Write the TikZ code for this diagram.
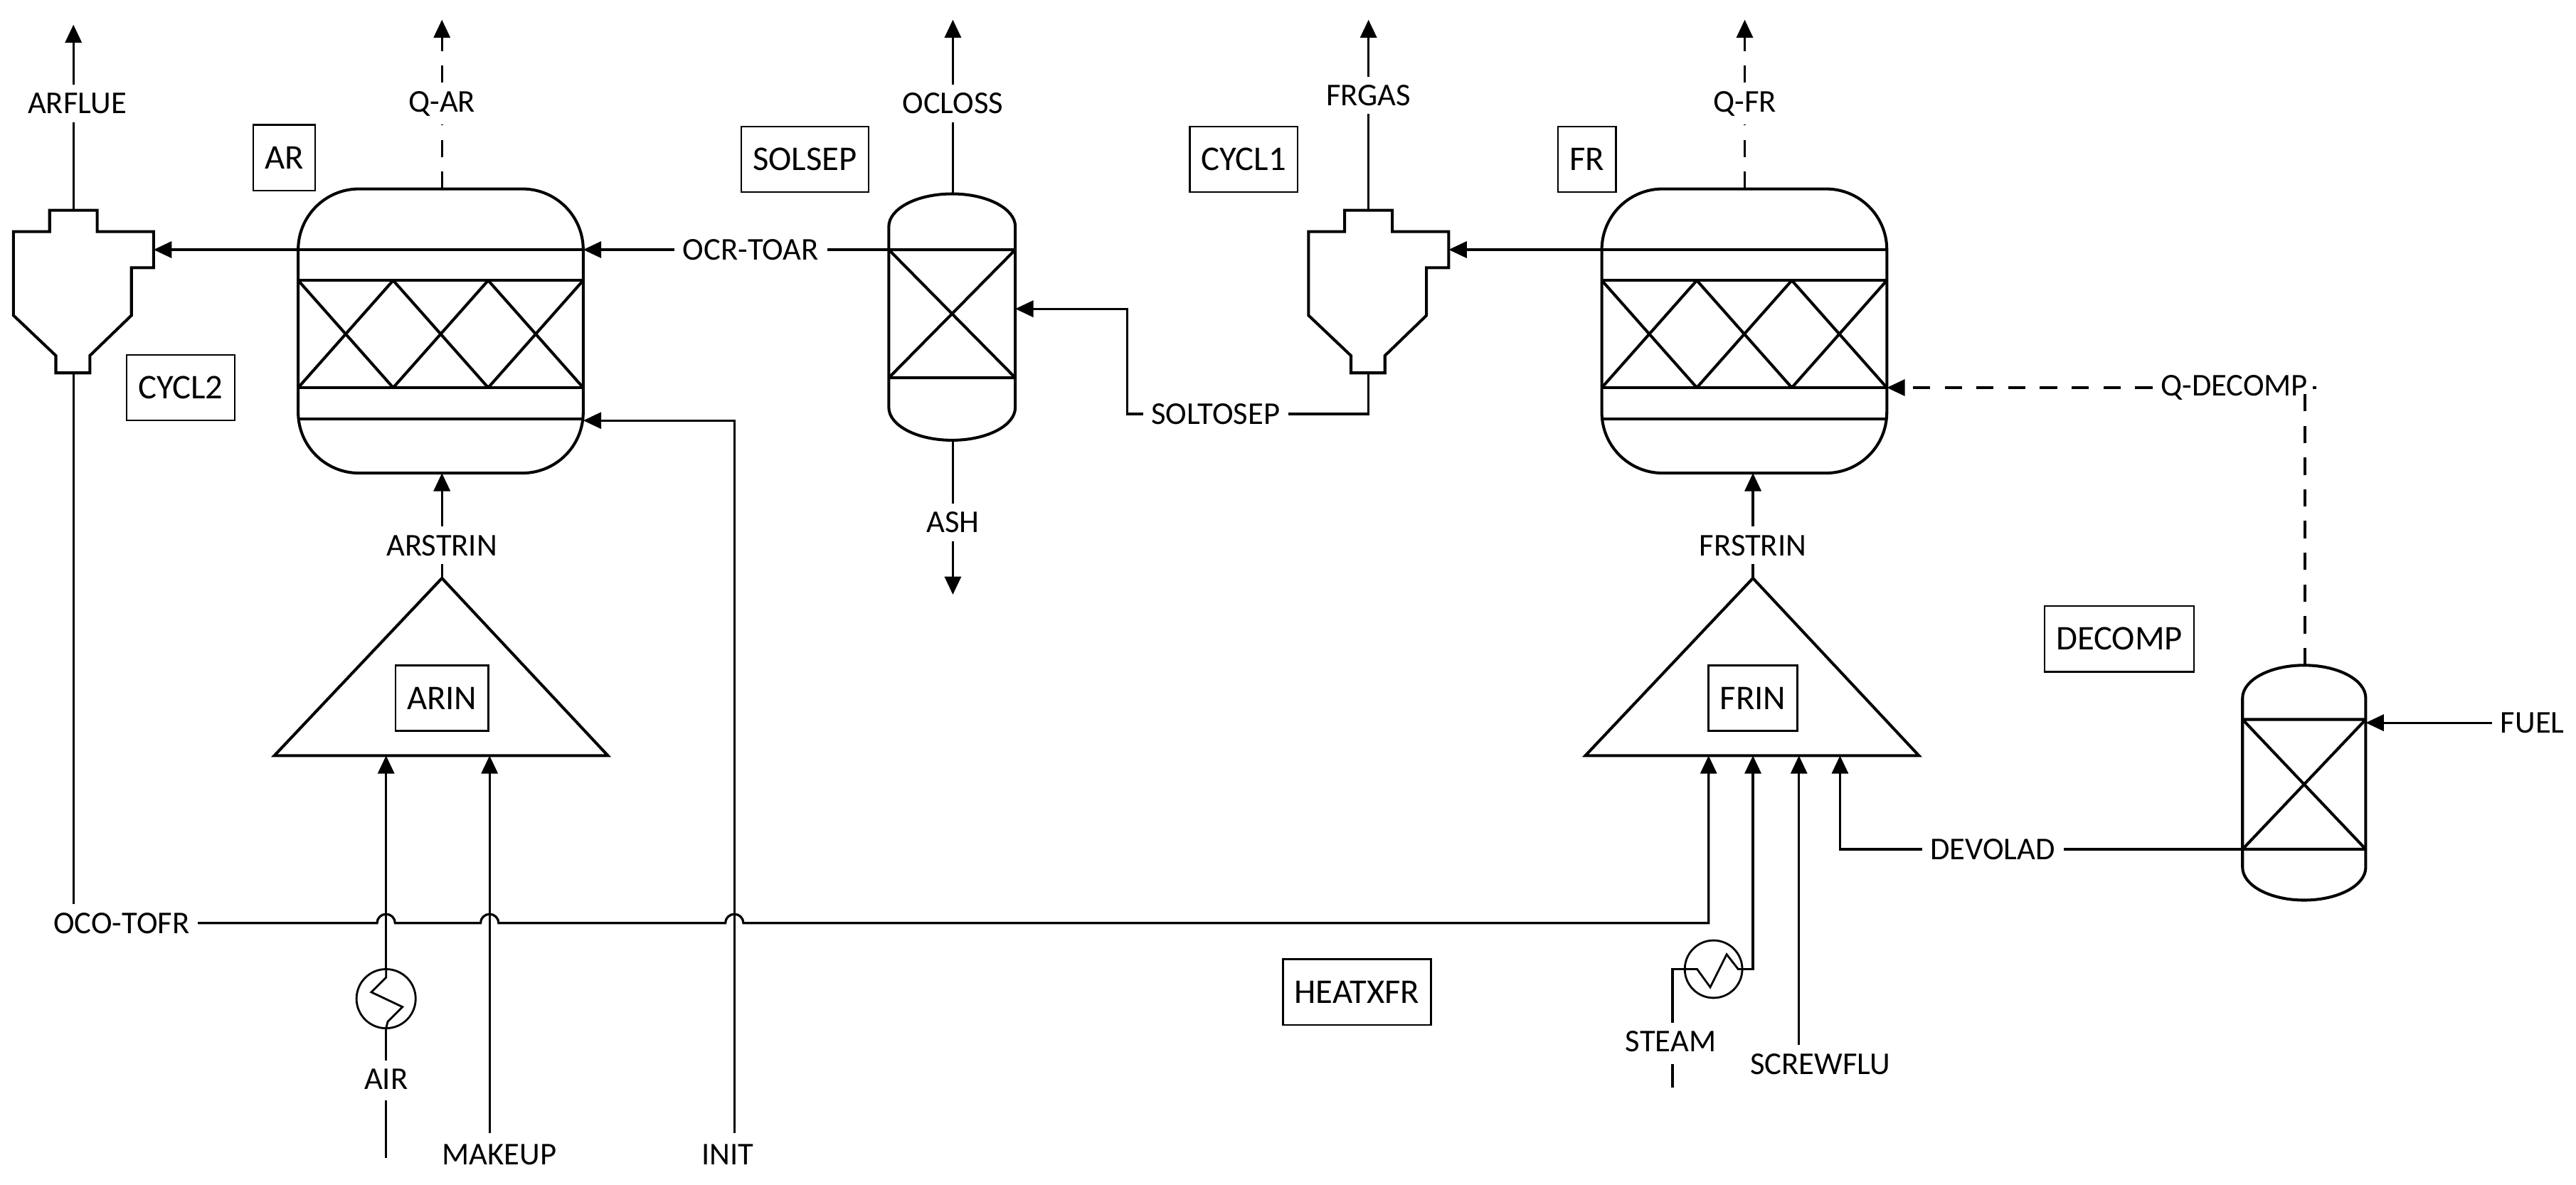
\documentclass[tikz,border=0pt]{standalone}
\usepackage{fontspec}
\setmainfont{Carlito}
\usetikzlibrary{arrows.meta}
\begin{document}
\begin{tikzpicture}[x=0.02cm,y=-0.02cm,line width=0.8pt,
  >={Triangle[length=0.22cm,width=0.2cm]},
  lab/.style={font=\fontsize{11}{13}\selectfont,inner sep=2.5pt},
  box/.style={draw,line width=0.6pt,font=\fontsize{12}{14}\selectfont,minimum height=0.8cm,inner sep=4pt},
  eq/.style={line width=1pt},
  dsh/.style={dash pattern=on 6pt off 5pt}]
\useasboundingbox (0,0) rectangle (1568,721);
% ---------- cyclones
\foreach \c in {44.7,833}{
 \begin{scope}[shift={(\c,0)}]
 \draw[eq] (-14.5,128) -- (14.5,128) -- (14.5,141) -- (48.8,141) -- (48.8,163) -- (35.3,163) -- (35.3,192) -- (10,216.5) -- (10,227) -- (-10.7,227) -- (-10.7,216.5) -- (-36.5,192) -- (-36.5,141) -- (-14.5,141) -- cycle;
 \end{scope}}
\coordinate (cAtop) at (44.7,128); \coordinate (cAin) at (93.5,152); \coordinate (cAbot) at (44.7,227);
\coordinate (cBtop) at (833,128); \coordinate (cBin) at (881.8,152); \coordinate (cBbot) at (833,227);
% ---------- reactors
\foreach \xo in {181.5,975}{
 \begin{scope}[shift={(\xo,0)}]
 \draw[eq,rounded corners=0.74cm] (0,115) rectangle (173.5,288);
 \draw[eq] (0,152) -- (173.5,152) (0,170.7) -- (173.5,170.7) (0,236) -- (173.5,236) (0,255) -- (173.5,255);
 \foreach \i in {0,1,2}{\draw[eq] (57.83*\i,170.7) -- (57.83*\i+57.83,236) (57.83*\i,236) -- (57.83*\i+57.83,170.7);}
 \end{scope}}
% ---------- SOLSEP vessel
\draw[eq] (541,248) -- (541,138) arc[start angle=180,end angle=360,x radius=38.5,y radius=20] -- (618,248) arc[start angle=0,end angle=180,x radius=38.5,y radius=20];
\draw[eq] (541,152) -- (618,152) (541,230) -- (618,230) (541,152) -- (618,230) (541,230) -- (618,152);
% ---------- DECOMP vessel
\draw[eq] (1365,528) -- (1365,425) arc[start angle=180,end angle=360,x radius=37.5,y radius=20] -- (1440,528) arc[start angle=0,end angle=180,x radius=37.5,y radius=20];
\draw[eq] (1365,438) -- (1440,438) (1365,517) -- (1440,517) (1365,438) -- (1440,517) (1365,517) -- (1440,438);
% ---------- mixers
\draw[eq] (269,352) -- (370,460) -- (167,460) -- cycle;
\draw[eq] (1067,352) -- (1168,460) -- (965,460) -- cycle;
% ---------- boxes
\node[box] (bAR) at (173,96) {AR};
\node[box] (bCYCL2) at (110,236) {CYCL2};
\node[box] (bSOLSEP) at (490,97) {SOLSEP};
\node[box] (bCYCL1) at (757,97) {CYCL1};
\node[box] (bFR) at (966,97) {FR};
\node[box] (bARIN) at (269,425) {ARIN};
\node[box] (bFRIN) at (1067,425) {FRIN};
\node[box] (bDECOMP) at (1290,389) {DECOMP};
\node[box] (bHEATXFR) at (826,604) {HEATXFR};
% ---------- stream labels
\node[lab] (ARFLUE) at (47,63) {ARFLUE};
\node[lab] (QAR) at (269,63) {Q-AR};
\node[lab] (OCLOSS) at (580,63) {OCLOSS};
\node[lab] (FRGAS) at (833,58) {FRGAS};
\node[lab] (QFR) at (1062,63) {Q-FR};
\node[lab,fill=white] (OCRTOAR) at (457,152) {OCR-TOAR};
\node[lab,fill=white] (SOLTOSEP) at (740,252) {SOLTOSEP};
\node[lab] (ASH) at (580,318) {ASH};
\node[lab] (ARSTRIN) at (269,332) {ARSTRIN};
\node[lab] (FRSTRIN) at (1067,332) {FRSTRIN};
\node[lab,fill=white] (QDECOMP) at (1360,236) {Q-DECOMP};
\node[lab,anchor=east] (FUEL) at (1566,440) {FUEL};
\node[lab,fill=white] (DEVOLAD) at (1213,517) {DEVOLAD};
\node[lab,fill=white] (OCOTOFR) at (74,562) {OCO-TOFR};
\node[lab] (AIR) at (235,657) {AIR};
\node[lab] (MAKEUP) at (304,703) {MAKEUP};
\node[lab] (INIT) at (443,703) {INIT};
\node[lab] (STEAM) at (1017,634) {STEAM};
\node[lab] (SCREWFLU) at (1108,648) {SCREWFLU};
% ---------- top outlets
\coordinate (tA) at (44.7,15); \coordinate (tQA) at (269,12); \coordinate (tO) at (580,12);
\coordinate (tF) at (833,12); \coordinate (tQF) at (1062,12);
\draw (cAtop) -- (ARFLUE.south -| cAtop); \draw[->] (ARFLUE.north -| cAtop) -- (tA);
\draw[dsh] (269,115) -- (QAR); \draw[dsh,->] (QAR) -- (tQA);
\draw (580,118) -- (OCLOSS); \draw[->] (OCLOSS) -- (tO);
\draw (cBtop) -- (FRGAS); \draw[->] (FRGAS) -- (tF);
\draw[dsh] (1062,115) -- (QFR); \draw[dsh,->] (QFR) -- (tQF);
% ---------- cyclone inlets
\draw[->] (181.5,152) -- (cAin);
\draw[->] (975,152) -- (cBin);
% ---------- OCR-TOAR
\draw (541,152) -- (OCRTOAR); \draw[->] (OCRTOAR) -- (355,152);
% ---------- SOLTOSEP
\draw (cBbot) |- (SOLTOSEP); \draw[->] (SOLTOSEP) -| (686,188) -- (618,188);
% ---------- ASH
\draw (580,268) -- (ASH); \draw[->] (ASH) -- (580,362);
% ---------- mixer outlets
\draw (269,352) -- (ARSTRIN); \draw[->] (ARSTRIN) -- (269,288);
\draw (1067,352) -- (FRSTRIN); \draw[->] (FRSTRIN) -- (1067,288);
% ---------- Q-DECOMP
\draw[dsh] (1403,405) |- (QDECOMP); \draw[dsh,->] (QDECOMP) -- (1148.5,236);
% ---------- FUEL / DEVOLAD
\draw[->] (FUEL) -- (1440,440);
\draw (1365,517) -- (DEVOLAD); \draw[->] (DEVOLAD) -| (1120,460);
% ---------- INIT
\coordinate (iB) at (447,690);
\draw[->] (iB) -- (447,256) -- (355,256);
% ---------- OCO-TOFR with jumps
\draw (cAbot) -- (OCOTOFR.north -| cAbot);
\draw[->] (OCOTOFR.east) -- (229.5,562) arc[start angle=180,end angle=360,radius=5.5] -- (292.5,562) arc[start angle=180,end angle=360,radius=5.5] -- (441.5,562) arc[start angle=180,end angle=360,radius=5.5] -- (1040,562) -- (1040,460);
% ---------- AIR with heater
\node[draw,circle,minimum size=0.72cm,inner sep=0pt,line width=0.7pt] (HXA) at (235,608) {};
\draw[line width=0.7pt] (235,590) -- (235,595) -- (226,604) -- (245,613) -- (236,622) -- (235,626);
\draw (235,705) -- (235,670);
\draw (AIR) -- (HXA);
\draw[->] (HXA) -- (235,460);
\coordinate (mB) at (298,690);
\draw[->] (mB) -- (298,460);
% ---------- STEAM with heater
\node[draw,circle,minimum size=0.7cm,inner sep=0pt,line width=0.7pt] (HXS) at (1043,590) {};
\draw[line width=0.7pt] (HXS.west) -- (1033,590) -- (1041,601) -- (1051,581) -- (1058,590) -- (HXS.east);
\draw (1018,648) -- (1018,662);
\draw (STEAM.north -| 1018,0) -- (1018,590) -- (HXS.west);
\draw[->] (HXS.east) -- (1067,590) -- (1067,460);
\draw[->] (1095,636) -- (1095,460);
\end{tikzpicture}
\end{document}
